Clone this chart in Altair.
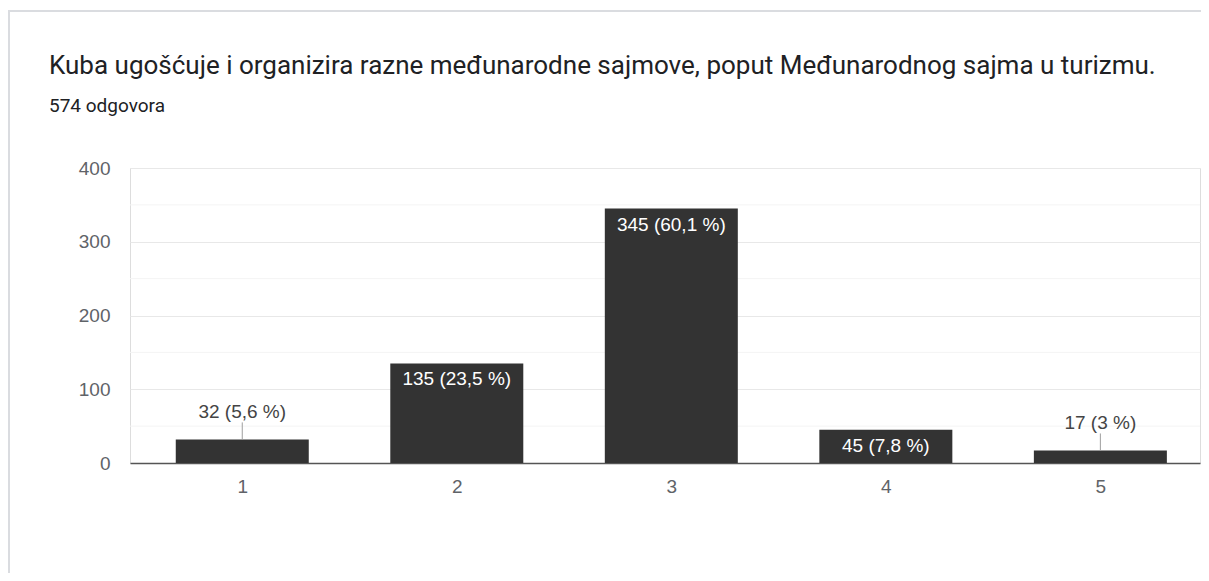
import altair as alt
import pandas as pd

categories = [1, 2, 3, 4, 5]
counts = [32, 135, 345, 45, 17]
percents = ["5,6", "23,5", "60,1", "7,8", "3"]
y_ticks = [0, 100, 200, 300, 400]
minor_ticks = [50, 150, 250, 350]

title_text = "Kuba ugošćuje i organizira razne međunarodne sajmove, poput Međunarodnog sajma u turizmu."
subtitle_text = "574 odgovora"

df = pd.DataFrame({"cat": categories, "count": counts, "pct": percents})
df["label"] = [f"{c} ({p} %)" for c, p in zip(df["count"], df["pct"])]
df["inside"] = df["count"] >= 40

minor_df = pd.DataFrame({"v": minor_ticks})
titles_df = pd.DataFrame({"t": [title_text]})
sub_df = pd.DataFrame({"t": [subtitle_text]})
one = pd.DataFrame({"a": [0]})

W, H = 1070, 295
STEP = 216.55
x_max = 0.5 + W / STEP
TFONT = "Roboto"
CFONT = "Liberation Sans"

x_enc = alt.X("cat:Q", scale=alt.Scale(domain=[0.5, x_max], nice=False, zero=False),
              axis=alt.Axis(values=categories, format="d", grid=False, ticks=False,
                            domain=True, domainColor="#555555", domainWidth=1.5,
                            labelFontSize=19, labelColor="#5f6368", labelFont=CFONT,
                            labelPadding=14, title=None))
y_enc = alt.Y("count:Q", scale=alt.Scale(domain=[0, 400], nice=False),
              axis=alt.Axis(values=y_ticks, grid=True, gridColor="#e8e8e8", gridWidth=1,
                            ticks=False, domain=False, labelFontSize=19,
                            labelColor="#5f6368", labelFont=CFONT, labelPadding=20,
                            title=None))

border_left = alt.Chart(one).mark_rule(color="#dadce0", strokeWidth=2).encode(
    x=alt.value(-121), y=alt.value(-157), y2=alt.value(H + 110))
border_top = alt.Chart(one).mark_rule(color="#dadce0", strokeWidth=2).encode(
    x=alt.value(-122), x2=alt.value(W + 1), y=alt.value(-157))

title_mark = alt.Chart(titles_df).mark_text(
    align="left", baseline="alphabetic", font=TFONT, fontSize=26, color="#202124").encode(
    x=alt.value(-81), y=alt.value(-94), text="t:N")
sub_mark = alt.Chart(sub_df).mark_text(
    align="left", baseline="alphabetic", font=TFONT, fontSize=19, color="#202124").encode(
    x=alt.value(-81), y=alt.value(-56), text="t:N")

minor = alt.Chart(minor_df).mark_rule(color="#f4f4f4", strokeWidth=1).encode(
    y=alt.Y("v:Q", scale=alt.Scale(domain=[0, 400], nice=False)))

bars = alt.Chart(df).mark_bar(size=133, color="#333333").encode(x=x_enc, y=y_enc)

leaders = alt.Chart(df).transform_filter("!datum.inside").mark_rule(
    color="#9e9e9e", strokeWidth=1, y2Offset=-17).encode(
    x="cat:Q", y="count:Q", y2="count:Q")

text_in = alt.Chart(df).transform_filter("datum.inside").mark_text(
    color="white", fontSize=19, font=CFONT, baseline="middle", dy=16).encode(
    x="cat:Q", y="count:Q", text="label:N")

text_out = alt.Chart(df).transform_filter("!datum.inside").mark_text(
    color="#444444", fontSize=19, font=CFONT, baseline="middle", dy=-27).encode(
    x="cat:Q", y="count:Q", text="label:N")

chart = alt.layer(border_left, border_top, title_mark, sub_mark, minor, bars, leaders,
                  text_in, text_out).properties(
    width=W, height=H,
    autosize=alt.AutoSizeParams(type="none"),
    padding={"left": 122, "top": 160, "right": 1, "bottom": 110},
).configure_view(stroke=None).configure(background="white")

chart.save("out.html", embed_options={"renderer": "svg", "actions": False})
